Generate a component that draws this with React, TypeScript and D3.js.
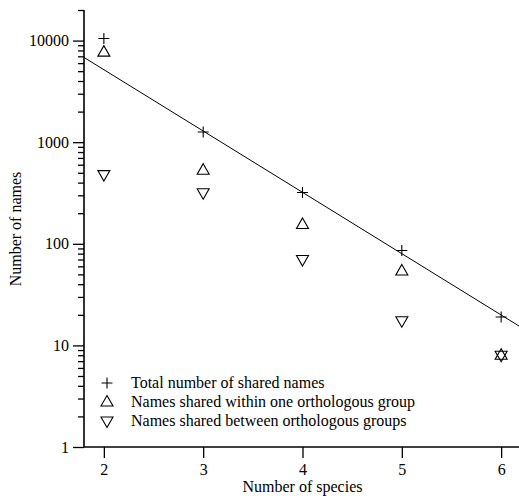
import React, { useEffect, useRef } from 'react';
import * as d3 from 'd3';

// number of species sharing a name
const species = [2, 3, 4, 5, 6];
const totalShared = [10500, 1260, 320, 86, 19];
const withinGroup = [7700, 530, 155, 54, 8];
const betweenGroups = [480, 318, 70, 17.5, 8];

const yMajor = [1, 10, 100, 1000, 10000];
const legendLabels = [
  'Total number of shared names',
  'Names shared within one orthologous group',
  'Names shared between orthologous groups'
];

const W = 519, H = 496;
const FONT = "'Liberation Serif', 'DejaVu Serif', serif";

const triUp = 'M0,-6.5L6,4L-6,4Z';
const triDown = 'M0,6.5L6,-4L-6,-4Z';
const plus = 'M-5.5,0H5.5M0,-5.5V5.5';

const App = () => {
  const ref = useRef(null);

  useEffect(() => {
    const svg = d3.select(ref.current);
    svg.selectAll('*').remove();

    const x = d3.scaleLinear().domain([1.8, 6.2]).range([84, 521]);
    const y = d3.scaleLog().domain([1, 20000]).range([447, 10]);

    // minor ticks 2..9 of each decade, up to 20000
    const minor = [];
    for (let d = 1; d <= 10000; d *= 10) {
      for (let k = 2; k <= 9; k++) {
        if (d * k <= 20000) minor.push(d * k);
      }
    }

    const g = svg.append('g');

    // left axis, major ticks with labels
    const left = g.append('g')
      .attr('transform', 'translate(84,0)')
      .call(d3.axisLeft(y).tickValues(yMajor).tickSize(11).tickPadding(4).tickFormat(d3.format('d')));
    left.attr('font-family', null).attr('font-size', null);
    left.select('.domain').remove();
    left.selectAll('text').style('font-family', FONT).style('font-size', '16px').attr('fill', '#000');
    left.selectAll('line').attr('stroke', '#000').attr('stroke-width', 1.3);

    const leftMinor = g.append('g')
      .attr('transform', 'translate(84,0)')
      .call(d3.axisLeft(y).tickValues(minor).tickSize(6).tickFormat(() => ''));
    leftMinor.select('.domain').remove();
    leftMinor.selectAll('line').attr('stroke', '#000').attr('stroke-width', 1.3);

    // bottom axis
    const bottom = g.append('g')
      .attr('transform', 'translate(0,447)')
      .call(d3.axisBottom(x).tickValues(species).tickSize(11).tickPadding(6).tickFormat(d3.format('d')));
    bottom.attr('font-family', null).attr('font-size', null);
    bottom.select('.domain').remove();
    bottom.selectAll('text').style('font-family', FONT).style('font-size', '16px').attr('fill', '#000');
    bottom.selectAll('line').attr('stroke', '#000').attr('stroke-width', 1.3);

    // axis lines
    g.append('line').attr('x1', 84).attr('x2', 84).attr('y1', y(20000)).attr('y2', 447)
      .attr('stroke', '#000').attr('stroke-width', 1.6);
    g.append('line').attr('x1', 84).attr('x2', W).attr('y1', 447).attr('y2', 447)
      .attr('stroke', '#000').attr('stroke-width', 1.6);

    // fit of log10(total) vs species, species >= 3
    const pts = species.map((s, i) => [s, Math.log10(totalShared[i])]).filter(p => p[0] >= 3);
    const mx = d3.mean(pts, p => p[0]);
    const my = d3.mean(pts, p => p[1]);
    const slope = d3.sum(pts, p => (p[0] - mx) * (p[1] - my)) / d3.sum(pts, p => (p[0] - mx) ** 2);
    const fit = s => Math.pow(10, my + slope * (s - mx));
    const line = d3.line().x(d => x(d)).y(d => y(fit(d)));
    g.append('path')
      .attr('d', line(x.domain()))
      .attr('fill', 'none')
      .attr('stroke', '#000')
      .attr('stroke-width', 1);

    const drawMarks = (vals, shape) => {
      g.append('g').selectAll('path')
        .data(vals)
        .enter().append('path')
        .attr('transform', (d, i) => `translate(${x(species[i])},${y(d)})`)
        .attr('d', shape)
        .attr('fill', 'none')
        .attr('stroke', '#000')
        .attr('stroke-width', 1.1);
    };
    drawMarks(totalShared, plus);
    drawMarks(withinGroup, triUp);
    drawMarks(betweenGroups, triDown);

    // legend
    const shapes = [plus, triUp, triDown];
    const leg = g.append('g');
    legendLabels.forEach((lab, i) => {
      const cy = 383 + i * 19;
      leg.append('path')
        .attr('transform', `translate(107,${cy})`)
        .attr('d', shapes[i])
        .attr('fill', 'none')
        .attr('stroke', '#000')
        .attr('stroke-width', 1.1);
      leg.append('text')
        .attr('x', 131)
        .attr('y', cy + 5)
        .style('font-family', FONT)
        .style('font-size', '16px')
        .text(lab);
    });

    // axis titles
    g.append('text')
      .attr('x', (84 + 521) / 2)
      .attr('y', 492)
      .attr('text-anchor', 'middle')
      .style('font-family', FONT)
      .style('font-size', '16px')
      .text('Number of species');
    g.append('text')
      .attr('transform', 'translate(21,229) rotate(-90)')
      .attr('text-anchor', 'middle')
      .style('font-family', FONT)
      .style('font-size', '16px')
      .text('Number of names');
  }, []);

  return (
    <svg ref={ref} width={W} height={H}
      style={{ position: 'absolute', left: 0, top: 0, background: '#fff' }} />
  );
};

export default App;
